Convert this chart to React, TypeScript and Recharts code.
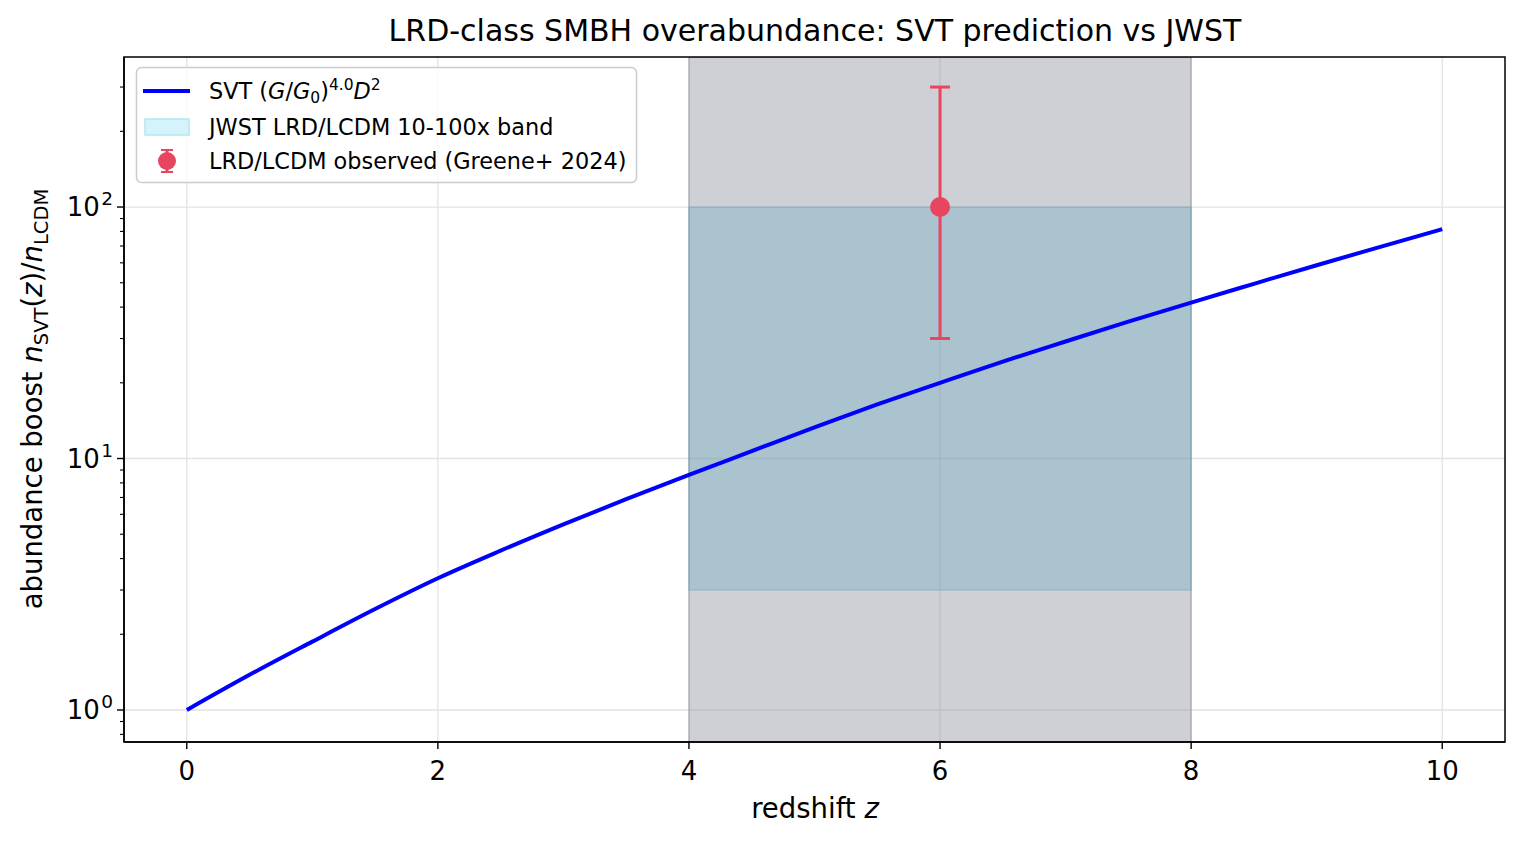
import React from 'react';
import {
  ComposedChart,
  Line,
  Scatter,
  XAxis,
  YAxis,
  CartesianGrid,
  ReferenceArea,
  ErrorBar,
} from 'recharts';

// ---- data ----
const redshift = [0, 0.5, 1, 1.5, 2, 2.5, 3, 3.5, 4, 4.5, 5, 5.5, 6, 6.5, 7, 7.5, 8, 8.5, 9, 9.5, 10];
const svtBoost = [1.0, 1.38, 1.87, 2.52, 3.34, 4.3, 5.47, 6.89, 8.61, 10.7, 13.3, 16.4, 20.0, 24.3, 29.2, 35.0, 41.7, 49.5, 58.7, 69.3, 81.7];

const obsRedshift = [6];
const obsBoost = [100];
const obsErrLow = [70];
const obsErrHigh = [200];

const jwstWindowZ = [4, 8];
const jwstBandBoost = [3, 100];

const xTicks = [0, 2, 4, 6, 8, 10];
const yMajorTicks = [1, 10, 100];
const yMajorExponents = ['0', '1', '2'];
const yMinorTicks = [0.8, 0.9, 2, 3, 4, 5, 6, 7, 8, 9, 20, 30, 40, 50, 60, 70, 80, 90, 200, 300];

const xDomain: [number, number] = [-0.5, 10.5];
const yDomain: [number, number] = [0.746, 395];

const curveData = redshift.map((z, i) => ({ z, boost: svtBoost[i] }));
const obsData = obsRedshift.map((z, i) => ({ z, boost: obsBoost[i], err: [obsErrLow[i], obsErrHigh[i]] }));

const FONT = '"DejaVu Sans", sans-serif';
const W = 1522;
const H = 843;
const RED = '#e8455f';
const TICK_FS = 26;
const LABEL_FS = 27.5;
const TITLE_FS = 30;
const LEGEND_FS = 22.4;

const YTick = (props: any) => {
  const { x, y, payload } = props;
  const v = payload.value;
  const idx = yMajorTicks.indexOf(v);
  if (idx >= 0) {
    return (
      <g>
        <line x1={x - 7} x2={x} y1={y} y2={y} stroke="#000" strokeWidth={1.4} />
        <text x={x - 11} y={y + 9} textAnchor="end" fontSize={TICK_FS} fontFamily={FONT} fill="#000">
          10
          <tspan dx={1.5} dy={-11} fontSize={18.5}>{yMajorExponents[idx]}</tspan>
        </text>
      </g>
    );
  }
  return <line x1={x - 4} x2={x} y1={y} y2={y} stroke="#000" strokeWidth={1.1} />;
};

const XTick = (props: any) => {
  const { x, y, payload } = props;
  return (
    <g>
      <line x1={x} x2={x} y1={y} y2={y + 7} stroke="#000" strokeWidth={1.4} />
      <text x={x} y={y + 38} textAnchor="middle" fontSize={TICK_FS} fontFamily={FONT} fill="#000">
        {payload.value}
      </text>
    </g>
  );
};

const ObsDot = (props: any) => {
  const { cx, cy } = props;
  return <circle cx={cx} cy={cy} r={10} fill={RED} />;
};

export default function App() {
  return (
    <div style={{ position: 'absolute', left: 0, top: 0, width: W, height: H, background: '#fff' }}>
      <ComposedChart
        width={W}
        height={H}
        margin={{ top: 57, right: 17, left: 0, bottom: 0 }}
        style={{ position: 'absolute', left: 0, top: 0 }}
      >
        <CartesianGrid
          stroke="#e3e3e3"
          strokeWidth={1.3}
          horizontalValues={yMajorTicks}
          verticalValues={xTicks}
        />
        <XAxis
          type="number"
          dataKey="z"
          domain={xDomain}
          ticks={xTicks}
          allowDataOverflow
          height={101}
          tickSize={0}
          tickMargin={0}
          tickLine={false}
          tick={<XTick />}
          axisLine={{ stroke: '#000', strokeWidth: 1.5 }}
        />
        <YAxis
          type="number"
          scale="log"
          domain={yDomain}
          allowDataOverflow
          ticks={[...yMajorTicks, ...yMinorTicks]}
          interval={0}
          width={124}
          tickSize={0}
          tickMargin={0}
          tickLine={false}
          tick={<YTick />}
          axisLine={{ stroke: '#000', strokeWidth: 1.5 }}
        />
        <ReferenceArea
          x1={jwstWindowZ[0]}
          x2={jwstWindowZ[1]}
          fill="#8c909e"
          fillOpacity={0.42}
          stroke="#6b6e78"
          strokeOpacity={0.35}
          strokeWidth={1.5}
          ifOverflow="hidden"
        />
        <ReferenceArea
          x1={jwstWindowZ[0]}
          x2={jwstWindowZ[1]}
          y1={jwstBandBoost[0]}
          y2={jwstBandBoost[1]}
          fill="#5aa7bc"
          fillOpacity={0.3}
          stroke="#5aa7bc"
          strokeOpacity={0.35}
          strokeWidth={1.5}
        />
        {/* axes frame */}
        <ReferenceArea
          x1={xDomain[0]}
          x2={xDomain[1]}
          y1={yDomain[0]}
          y2={yDomain[1]}
          fill="none"
          fillOpacity={0}
          stroke="#000"
          strokeWidth={1.5}
          ifOverflow="visible"
        />
        <Line
          data={curveData}
          dataKey="boost"
          type="monotone"
          stroke="#0000ff"
          strokeWidth={4}
          dot={false}
          activeDot={false}
          isAnimationActive={false}
        />
        <Scatter data={obsData} dataKey="boost" fill={RED} shape={<ObsDot />} isAnimationActive={false}>
          <ErrorBar dataKey="err" direction="y" width={10} stroke={RED} strokeWidth={3} isAnimationActive={false} />
        </Scatter>
      </ComposedChart>

      <svg
        width={W}
        height={H}
        style={{ position: 'absolute', left: 0, top: 0, pointerEvents: 'none' }}
        fontFamily={FONT}
      >
        {/* title */}
        <text x={815} y={41} textAnchor="middle" fontSize={TITLE_FS} fill="#000">
          LRD-class SMBH overabundance: SVT prediction vs JWST
        </text>
        {/* x label */}
        <text x={815} y={818} textAnchor="middle" fontSize={LABEL_FS} fill="#000">
          redshift <tspan fontStyle="italic">z</tspan>
        </text>
        {/* y label */}
        <text x={0} y={0} transform="translate(42 399) rotate(-90)" textAnchor="middle" fontSize={LABEL_FS} fill="#000">
          abundance boost <tspan fontStyle="italic">n</tspan>
          <tspan dy={6} fontSize={19.5}>SVT</tspan>
          <tspan dy={-6}>(</tspan>
          <tspan fontStyle="italic">z</tspan>
          <tspan>)/</tspan>
          <tspan fontStyle="italic">n</tspan>
          <tspan dy={6} fontSize={19.5}>LCDM</tspan>
        </text>

        {/* legend */}
        <rect x={136.5} y={67.5} width={500} height={115} rx={5} fill="#fff" fillOpacity={0.8} stroke="#cccccc" strokeWidth={1.5} />
        <line x1={143} x2={190} y1={91} y2={91} stroke="#0000ff" strokeWidth={4} />
        <text x={209} y={99} fontSize={LEGEND_FS} fill="#000">
          SVT (<tspan fontStyle="italic">G</tspan>/<tspan fontStyle="italic">G</tspan>
          <tspan dy={4} fontSize={15.5}>0</tspan>
          <tspan dy={-4}>)</tspan>
          <tspan dy={-9} fontSize={15.5}>4.0</tspan>
          <tspan dy={9} fontStyle="italic">D</tspan>
          <tspan dy={-9} fontSize={15.5}>2</tspan>
        </text>
        <rect x={145} y={119} width={44} height={16} fill="#d5f3fa" stroke="#b3e8f5" strokeWidth={1.5} />
        <text x={209} y={135} fontSize={LEGEND_FS} fill="#000">
          JWST LRD/LCDM 10-100x band
        </text>
        <line x1={167} x2={167} y1={150} y2={172} stroke={RED} strokeWidth={3} />
        <line x1={161} x2={173} y1={150} y2={150} stroke={RED} strokeWidth={2} />
        <line x1={161} x2={173} y1={172} y2={172} stroke={RED} strokeWidth={2} />
        <circle cx={167} cy={161} r={9} fill={RED} />
        <text x={209} y={169} fontSize={LEGEND_FS} fill="#000">
          LRD/LCDM observed (Greene+ 2024)
        </text>
      </svg>
    </div>
  );
}
